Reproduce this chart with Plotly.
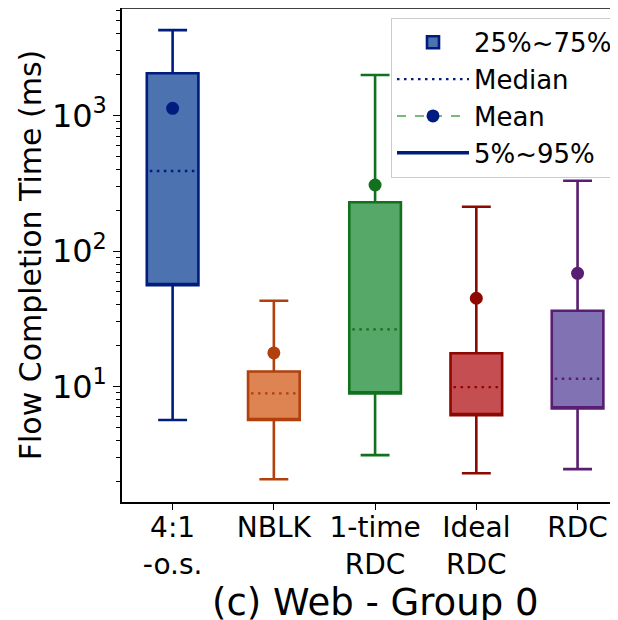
import plotly.graph_objects as go

# ---- data ----
categories = ["4:1<br>-o.s.", "NBLK", "1-time<br>RDC", "Ideal<br>RDC", "RDC"]
p5 = [5.66, 2.07, 3.12, 2.29, 2.46]
p25 = [56.0, 5.66, 8.9, 6.15, 6.9]
p50 = [389.0, 8.9, 26.4, 9.9, 11.4]
p75 = [2048.0, 12.9, 229.0, 17.6, 36.2]
p95 = [4260.0, 43.0, 1990.0, 212.0, 330.0]
means = [1130.0, 17.7, 307.0, 44.8, 68.4]

y_tickvals = [10, 100, 1000]
y_ticktext = ["10<sup>1</sup>", "10<sup>2</sup>", "10<sup>3</sup>"]
legend_names = ["25%~75%", "Median", "Mean", "5%~95%"]
title_text = "(c) Web - Group 0"
ylabel = "Flow Completion Time (ms)"

fills = ["#4C72B0", "#DD8452", "#55A868", "#C44E52", "#8172B3"]
edges = ["#001c7f", "#b1400d", "#12711c", "#8c0800", "#591e71"]

FONT = "DejaVu Sans"
BOXW = 0.51

fig = go.Figure()

xs = list(range(len(categories)))
for i in xs:
    fig.add_trace(go.Box(
        x=[i], q1=[p25[i]], median=[p25[i]], q3=[p75[i]],
        lowerfence=[p5[i]], upperfence=[p95[i]],
        width=BOXW, whiskerwidth=0.56,
        fillcolor=fills[i], line=dict(color=edges[i], width=2.6),
        name=legend_names[0], showlegend=(i == 0), boxpoints=False,
        hoverinfo="skip",
    ))

for i in xs:
    fig.add_trace(go.Scatter(
        x=[i - BOXW / 2 + 0.03, i + BOXW / 2 - 0.03], y=[p50[i], p50[i]],
        mode="lines", line=dict(color=edges[i], width=2.4, dash="2.5px,4.5px"),
        showlegend=False, hoverinfo="skip",
    ))

for i in xs:
    fig.add_trace(go.Scatter(
        x=[i], y=[means[i]], mode="markers",
        marker=dict(color=edges[i], size=13),
        showlegend=False, hoverinfo="skip",
    ))

# legend-only entries
fig.add_trace(go.Scatter(x=[None], y=[None], mode="lines", name=legend_names[1],
                         line=dict(color=edges[0], width=2.4, dash="2.5px,4.5px")))
fig.add_trace(go.Scatter(x=[None], y=[None], mode="lines+markers", name=legend_names[2],
                         line=dict(color="#4aa64a", width=1.5, dash="dash"),
                         marker=dict(color=edges[0], size=13)))
fig.add_trace(go.Scatter(x=[None], y=[None], mode="lines", name=legend_names[3],
                         line=dict(color=edges[0], width=3.5)))

minor_vals = [m * 10 ** e for e in range(0, 4) for m in range(2, 10)]

fig.update_layout(
    width=610, height=612,
    margin=dict(l=114, r=0, t=0, b=118),
    plot_bgcolor="white", paper_bgcolor="white",
    font=dict(family=FONT, color="black", size=28),
    legend=dict(x=0.547, y=0.980, xanchor="left", yanchor="top",
                font=dict(size=26, family=FONT), bgcolor="rgba(255,255,255,0.85)",
                bordercolor="#cccccc", borderwidth=1, itemwidth=72,
                entrywidth=200, entrywidthmode="pixels"),
    xaxis=dict(range=[-0.5, 4.36], tickmode="array", tickvals=xs, ticktext=categories,
               showline=True, linecolor="black", linewidth=1.5, ticks="outside",
               ticklen=6, tickwidth=1.2, tickcolor="black", showgrid=False, zeroline=False,
               automargin=False, ticklabelstandoff=-6, tickfont=dict(size=28, family=FONT)),
    yaxis=dict(type="log", range=[0.148, 3.793], tickmode="array", tickvals=y_tickvals,
               ticktext=y_ticktext, showline=True, linecolor="black", linewidth=1.5,
               ticks="outside", ticklen=7, tickwidth=1.2, tickcolor="black", showgrid=False,
               zeroline=False, automargin=False, tickfont=dict(size=32, family=FONT),
               minor=dict(tickmode="array", tickvals=minor_vals, ticks="outside",
                          ticklen=4, tickwidth=1, tickcolor="black", showgrid=False),
               title=dict(text=ylabel, font=dict(size=30, family=FONT), standoff=1)),
    shapes=[dict(type="line", xref="paper", yref="paper", x0=0, x1=1, y0=1, y1=1,
                 line=dict(color="black", width=1.5))],
    annotations=[dict(text=title_text, xref="x", yref="paper", x=2, y=-0.2025,
                      xanchor="center", yanchor="middle", showarrow=False,
                      font=dict(size=37, family=FONT))],
)

fig.write_html("out.html")
